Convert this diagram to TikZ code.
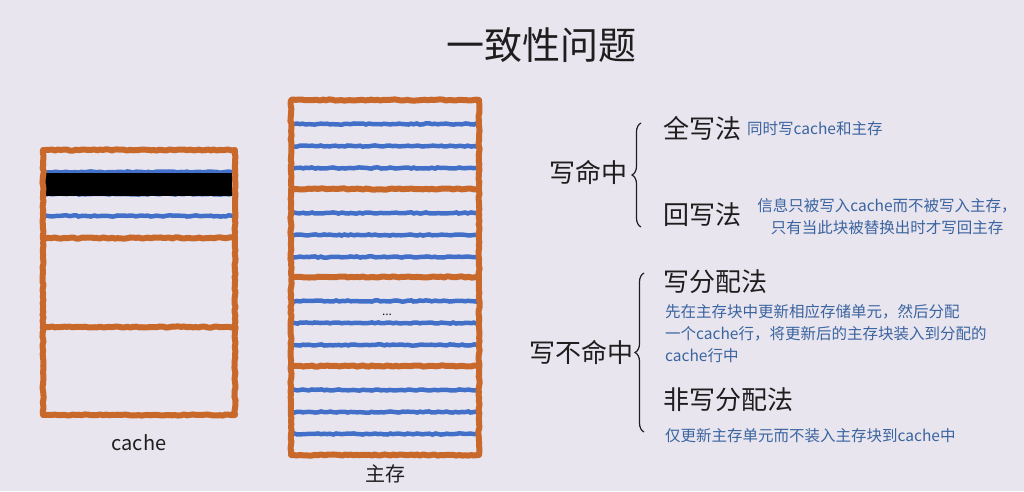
\documentclass[tikz,border=0pt]{standalone}
\usepackage{fontspec}
\setmainfont{Noto Sans CJK SC}
\usetikzlibrary{decorations.pathreplacing, decorations.pathmorphing}
\definecolor{bgcol}{RGB}{233,229,238}
\definecolor{rust}{RGB}{200,104,42}
\definecolor{crayonblue}{RGB}{66,112,200}
\definecolor{noteblue}{RGB}{58,100,160}
\definecolor{ink}{RGB}{30,30,30}
\tikzset{>=stealth}

\begin{document}
\begin{tikzpicture}[x=1pt, y=-1pt,
    crayon/.style={decorate, decoration={random steps, segment length=3pt, amplitude=0.6pt}},
    frame/.style={crayon, draw=rust, line width=6pt, line join=round},
    wordline/.style={crayon, draw=crayonblue, line width=4.5pt},
    heading/.style={text=ink, font=\fontsize{26}{30}\selectfont, inner sep=0pt},
    note/.style={text=noteblue, font=\fontsize{15.5}{22}\selectfont, inner sep=0pt},
    curly/.style={decorate, decoration={brace, amplitude=9pt}, line width=1.2pt, draw=ink}]
    % background and page size
    \fill [bgcol] (0,0) rectangle (1024,491);
    \useasboundingbox (0,0) rectangle (1024,491);
    \node (title) at (541,45) [text=ink, font=\fontsize{38}{42}\selectfont] {一致性问题};

    % cache
    \coordinate (C1) at (43,150);
    \coordinate (C2) at (235,415);
    \foreach \y in {172,194,216}
        \draw [wordline] (43,\y) -- (235,\y);
    \fill [black] (45,173) rectangle (232,196);
    \draw [frame] (C1) rectangle (C2);
    \foreach \y in {238,327}
        \draw [frame] (43,\y) -- (235,\y);
    \node (cachelbl) at (139,443) [text=ink, font=\fontsize{20}{24}\selectfont] {cache};

    % main memory
    \coordinate (M1) at (291,100);
    \coordinate (M2) at (479,455);
    \foreach \b in {100,189,277,366}
        \foreach \d in {24,46,68}
            \draw [wordline] (291,\b+\d) -- (479,\b+\d);
    \draw [frame] (M1) rectangle (M2);
    \foreach \y in {189,277,366}
        \draw [frame] (291,\y) -- (479,\y);
    \node (dots) at (387,315) [text=ink, font=\fontsize{12}{14}\selectfont] {...};
    \node (memlbl) at (385,474) [text=ink, font=\fontsize{20}{24}\selectfont] {主存};

    % write hit
    \node (hit) at (588,172) [heading] {写命中};
    \coordinate (HB) at (641,227);
    \coordinate (HT) at (641,123);
    \draw [curly] (HB) -- (HT);
    \node (wt) at (663,128) [heading, anchor=west] {全写法};
    \node (wtnote) at (747,129) [note, anchor=west] {同时写cache和主存};
    \node (wb) at (663,215) [heading, anchor=west] {回写法};
    \node (wbnote) at (887,217) [note, align=center] {信息只被写入cache而不被写入主存，\\只有当此块被替换出时才写回主存};

    % write miss
    \node (miss) at (581,352) [heading] {写不命中};
    \coordinate (MB) at (644,432);
    \coordinate (MT) at (644,273);
    \draw [curly] (MB) -- (MT);
    \node (wa) at (663,282) [heading, anchor=west] {写分配法};
    \node (wanote) at (665,304) [note, anchor=north west, align=left] {先在主存块中更新相应存储单元，然后分配\\一个cache行，将更新后的主存块装入到分配的\\cache行中};
    \node (nwa) at (663,400) [heading, anchor=west] {非写分配法};
    \node (nwanote) at (665,436) [note, anchor=west] {仅更新主存单元而不装入主存块到cache中};
\end{tikzpicture}
\end{document}
